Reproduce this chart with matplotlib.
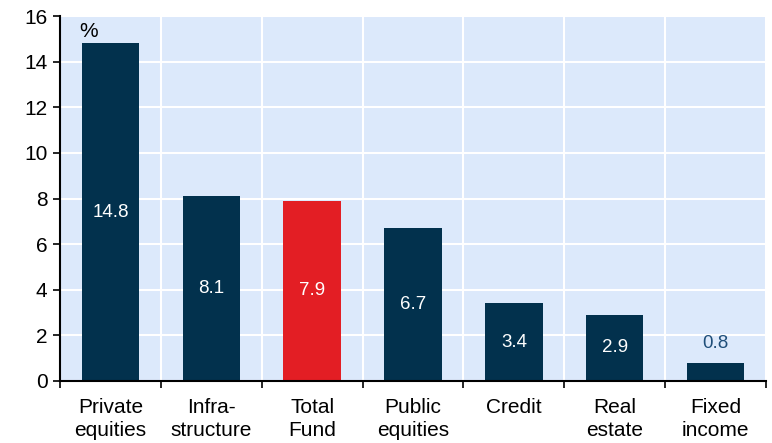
import matplotlib
matplotlib.use("Agg")
import matplotlib.pyplot as plt
import numpy as np

plt.rcParams['font.family'] = ['Liberation Sans', 'DejaVu Sans']

categories = ["Private\nequities", "Infra-\nstructure", "Total\nFund", "Public\nequities",
              "Credit", "Real\nestate", "Fixed\nincome"]
returns = [14.8, 8.1, 7.9, 6.7, 3.4, 2.9, 0.8]
highlight = "Total\nFund"
y_ticks = [0, 2, 4, 6, 8, 10, 12, 14, 16]

navy = "#02314d"
red = "#e31e24"
bg = "#dce9fb"

fig = plt.figure(figsize=(7.72, 4.43), dpi=100)
ax = fig.add_axes([60 / 772, 1 - 381 / 443, 706 / 772, 365 / 443])
ax.set_facecolor(bg)

x = np.arange(len(categories))
colors = [red if c == highlight else navy for c in categories]
bars = ax.bar(x, returns, width=0.57, color=colors, zorder=3)

ax.set_xlim(-0.5, len(categories) - 0.5)
ax.set_ylim(0, 16)
ax.set_yticks(y_ticks)
ax.set_yticklabels([str(t) for t in y_ticks], fontsize=15)

# category labels centred, tick marks on category boundaries
ax.set_xticks(x)
ax.set_xticklabels(categories, fontsize=15, linespacing=1.32)
ax.tick_params(axis='x', which='major', length=0, pad=12)
ax.set_xticks(np.arange(-0.5, len(categories)), minor=True)
ax.tick_params(axis='x', which='minor', length=5, width=1.2, direction='out')
ax.tick_params(axis='y', length=5, width=1.2, direction='out', pad=4)

ax.grid(axis='y', color='white', linewidth=1.5, zorder=1)
ax.grid(axis='x', which='minor', color='white', linewidth=1.5, zorder=1)
ax.grid(axis='x', which='major', visible=False)

for s in ['top', 'right']:
    ax.spines[s].set_visible(False)
for s in ['left', 'bottom']:
    ax.spines[s].set_linewidth(1.5)
    ax.spines[s].set_zorder(4)

for xi, v in zip(x, returns):
    if v >= 2:
        ax.text(xi, v / 2, f"{v:.1f}", ha='center', va='center', color='white',
                fontsize=13.5, zorder=5)
    else:
        ax.text(xi, v + 0.85, f"{v:.1f}", ha='center', va='center', color='#1f4e79',
                fontsize=13.5, zorder=5)

ax.text(-0.22, 15.3, "%", ha='center', va='center', fontsize=15, zorder=5)

fig.savefig("out.png", dpi=100)
